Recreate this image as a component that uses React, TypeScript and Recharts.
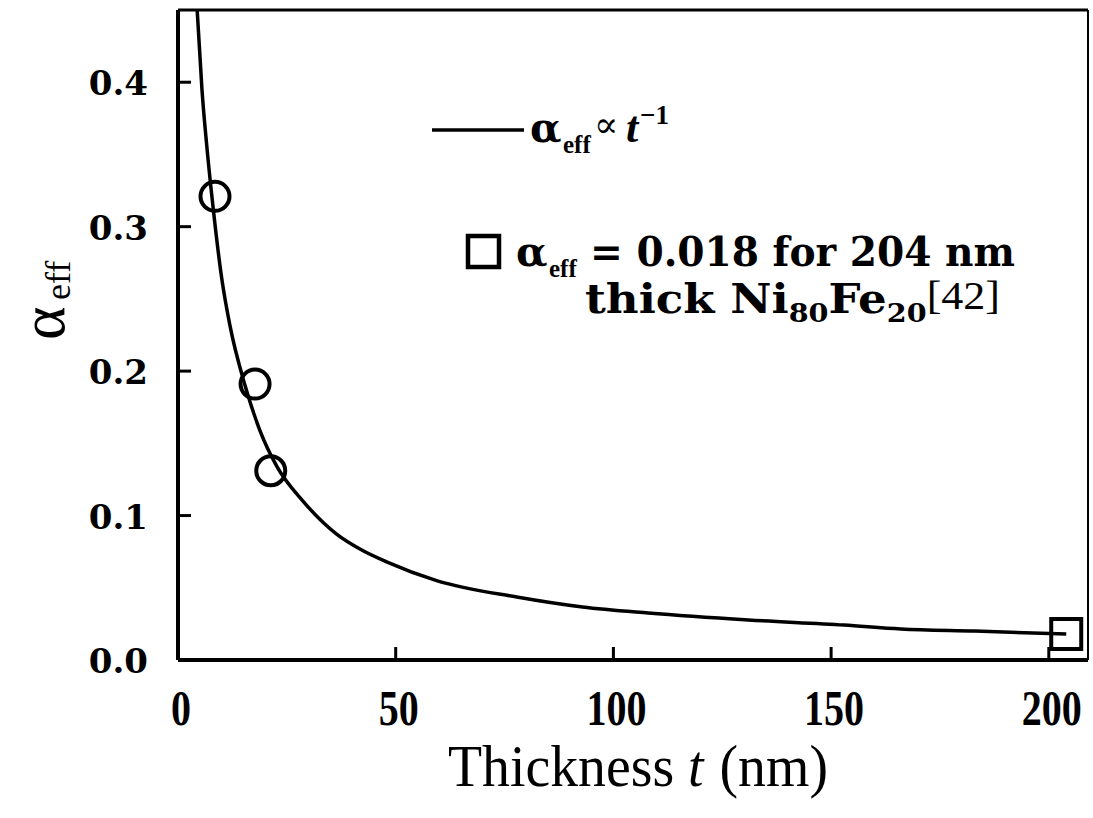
import React from 'react';
import { ComposedChart, Line, Scatter, XAxis, YAxis } from 'recharts';

// alpha_eff ∝ 1/t fit (t in nm)
const fitThickness = [4.4, 5.5, 6.7, 8.0, 10.1, 11.9, 15.4, 18.8, 22.7, 28.7, 36.5, 42.3, 47.9, 59.4, 77.8, 92.9, 108, 131, 153, 166, 183, 204];
const fitAlpha = [0.45, 0.395, 0.353, 0.315, 0.263, 0.232, 0.19, 0.159, 0.134, 0.11, 0.087, 0.076, 0.068, 0.055, 0.0436, 0.0367, 0.0325, 0.0277, 0.0242, 0.0215, 0.02, 0.018];

// measured damping (circles)
const sampleThickness = [8.5, 17.7, 21.3];
const sampleAlpha = [0.321, 0.191, 0.131];

// reference Ni80Fe20 film (square)
const refThickness = [204];
const refAlpha = [0.018];

const xTicks = [0, 50, 100, 150, 200];
const yTicks = [0, 0.1, 0.2, 0.3, 0.4];

const W = 1093;
const H = 818;
const SERIF = '"Liberation Serif", "DejaVu Serif", serif';
const WIDE_SERIF = '"DejaVu Serif", "Liberation Serif", serif';

const fitData = fitThickness.map((t, i) => ({ t, a: fitAlpha[i] }));
const sampleData = sampleThickness.map((t, i) => ({ t, a: sampleAlpha[i] }));
const refData = refThickness.map((t, i) => ({ t, a: refAlpha[i] }));

const TICK_LEN = 13;

const BottomTick = (props: any) => {
  const { x, y, payload } = props;
  return (
    <g>
      <line x1={x} y1={y} x2={x} y2={y - TICK_LEN} stroke="#000" strokeWidth={3} />
      <text
        transform={`translate(${x + 3},${y + 65}) scale(0.8,1)`}
        textAnchor="middle"
        fontFamily={SERIF}
        fontWeight="bold"
        fontSize={50}
        fill="#000"
      >
        {payload.value}
      </text>
    </g>
  );
};

const TopTick = (props: any) => {
  const { x, y } = props;
  return <line x1={x} y1={y} x2={x} y2={y + TICK_LEN} stroke="#000" strokeWidth={3} />;
};

const LeftTick = (props: any) => {
  const { x, y, payload } = props;
  return (
    <g>
      <line x1={x} y1={y} x2={x + TICK_LEN} y2={y} stroke="#000" strokeWidth={3} />
      <text x={x - 30} y={y + 13} textAnchor="end" fontFamily={WIDE_SERIF} fontWeight="bold" fontSize={34} fill="#000">
        {payload.value.toFixed(1)}
      </text>
    </g>
  );
};

const RightTick = (props: any) => {
  const { x, y } = props;
  return <line x1={x} y1={y} x2={x - TICK_LEN} y2={y} stroke="#000" strokeWidth={3} />;
};

const OpenCircle = (props: any) => {
  const { cx, cy } = props;
  return <circle cx={cx} cy={cy} r={14.5} fill="none" stroke="#000" strokeWidth={4} />;
};

const OpenSquare = (props: any) => {
  const { cx, cy } = props;
  return <rect x={cx - 15} y={cy - 15} width={30} height={30} fill="none" stroke="#000" strokeWidth={4} />;
};

export default function App() {
  return (
    <div style={{ position: 'absolute', left: 0, top: 0, width: W, height: H, background: '#fff' }}>
      <ComposedChart width={W} height={H} margin={{ top: 0, right: 0, bottom: 0, left: 0 }}>
        <XAxis
          xAxisId="b"
          dataKey="t"
          type="number"
          domain={[0, 209]}
          ticks={xTicks}
          height={158}
          tickSize={0}
          tickMargin={0}
          tickLine={false}
          axisLine={{ stroke: '#000', strokeWidth: 4 }}
          tick={<BottomTick />}
          interval={0}
        />
        <XAxis
          xAxisId="top"
          orientation="top"
          dataKey="t"
          type="number"
          domain={[0, 209]}
          ticks={xTicks}
          height={10}
          tickSize={0}
          tickMargin={0}
          tickLine={false}
          axisLine={{ stroke: '#000', strokeWidth: 3 }}
          tick={<TopTick />}
          interval={0}
        />
        <YAxis
          yAxisId="l"
          type="number"
          domain={[0, 0.45]}
          ticks={yTicks}
          width={178}
          tickSize={0}
          tickMargin={0}
          tickLine={false}
          axisLine={{ stroke: '#000', strokeWidth: 4 }}
          tick={<LeftTick />}
          interval={0}
          allowDataOverflow
        />
        <YAxis
          yAxisId="r"
          orientation="right"
          type="number"
          domain={[0, 0.45]}
          ticks={yTicks}
          width={5}
          tickSize={0}
          tickMargin={0}
          tickLine={false}
          axisLine={{ stroke: '#000', strokeWidth: 2 }}
          tick={<RightTick />}
          interval={0}
        />
        <Line
          xAxisId="b"
          yAxisId="l"
          data={fitData}
          dataKey="a"
          type="monotone"
          stroke="#000"
          strokeWidth={3.5}
          dot={false}
          activeDot={false}
          isAnimationActive={false}
        />
        <Scatter xAxisId="b" yAxisId="l" data={sampleData} dataKey="a" shape={<OpenCircle />} isAnimationActive={false} />
        <Scatter xAxisId="b" yAxisId="l" data={refData} dataKey="a" shape={<OpenSquare />} isAnimationActive={false} />
      </ComposedChart>

      {/* axis titles and in-plot key */}
      <svg width={W} height={H} style={{ position: 'absolute', left: 0, top: 0, pointerEvents: 'none' }}>
        <g transform="translate(448,786) scale(0.93,1)" fontFamily={SERIF} fontSize={60} fill="#000">
          <text x={0} y={0}>Thickness</text>
          <text x={258} y={0} fontStyle="italic">t</text>
          <text x={292} y={0}>(nm)</text>
        </g>

        <g transform="translate(64,340) rotate(-90)" fontFamily={SERIF} fill="#000">
          <text x={0} y={0} fontSize={64}>α</text>
          <text x={40} y={6} fontSize={36}>eff</text>
        </g>

        <line x1={432} y1={130} x2={524} y2={130} stroke="#000" strokeWidth={3.5} />
        <g fill="#000">
          <text x={530} y={142} fontFamily={WIDE_SERIF} fontWeight="bold" fontSize={41}>α</text>
          <text x={563} y={153} fontFamily={SERIF} fontWeight="bold" fontSize={25}>eff</text>
          <text x={594} y={137} fontFamily={WIDE_SERIF} fontSize={36}>∝</text>
          <text x={626} y={142} fontFamily={SERIF} fontWeight="bold" fontStyle="italic" fontSize={44}>t</text>
          <text x={640} y={124} fontFamily={SERIF} fontWeight="bold" fontSize={27}>−1</text>
        </g>

        <rect x={468} y={236} width={31} height={31} fill="none" stroke="#000" strokeWidth={4.5} />
        <g fontFamily={WIDE_SERIF} fontWeight="bold" fill="#000">
          <text x={516} y={266} fontSize={41}>α</text>
          <text x={549} y={277} fontFamily={SERIF} fontSize={25}>eff</text>
          <text x={590} y={266} fontSize={41} textLength={425} lengthAdjust="spacingAndGlyphs">
            = 0.018 for 204 nm
          </text>
          <text x={585} y={313} fontSize={41} textLength={415} lengthAdjust="spacingAndGlyphs">
            thick Ni<tspan fontSize={26} dy={9}>80</tspan>
            <tspan dy={-9}>Fe</tspan>
            <tspan fontSize={26} dy={9}>20</tspan>
            <tspan dy={-13} fontFamily={SERIF} fontWeight="normal" fontSize={40}>[42]</tspan>
          </text>
        </g>
      </svg>
    </div>
  );
}
